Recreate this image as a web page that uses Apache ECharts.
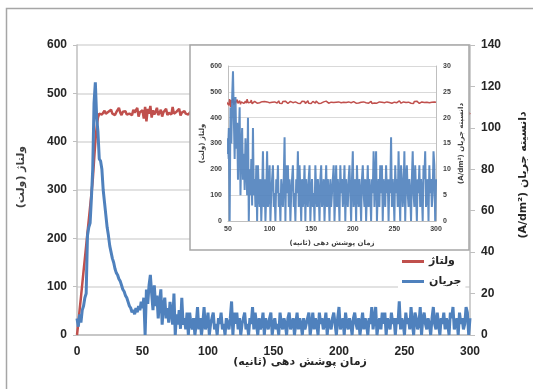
<!DOCTYPE html>
<html>
<head>
<meta charset="utf-8">
<script src="https://cdn.jsdelivr.net/npm/echarts@6/dist/echarts.min.js"></script>
<style>
  html, body { margin: 0; padding: 0; background: #fff; }
  #chart { width: 533px; height: 389px; direction: rtl; }
</style>
</head>
<body>
<div id="chart"></div>
<script>
// sample interval (seconds) of the recorded curves, t = 0 .. 300
var timeStep = 1;

// voltage (V), one value per second
var voltage = [
  0, 25, 52, 78, 105, 132, 158, 185, 212, 238,
  265, 292, 320, 360, 400, 430, 450, 458, 462, 456,
  460, 464, 458, 455, 462, 460, 466, 458, 460, 455,
  461, 458, 470, 460, 455, 462, 459, 463, 456, 460,
  458, 462, 455, 466, 460, 457, 470, 452, 461, 458,
  465, 448, 472, 442, 468, 458, 474, 450, 465, 456,
  462, 470, 455, 460, 466, 452, 461, 458, 468, 455,
  460, 464, 456, 472, 458, 455, 462, 460, 468, 454,
  460, 457, 463, 458, 461, 456, 460, 463, 458, 461,
  457, 462, 459, 455, 463, 460, 457, 461, 456, 462,
  458, 463, 456, 460, 464, 455, 461, 458, 462, 457,
  460, 465, 456, 459, 462, 455, 463, 458, 460, 464,
  457, 461, 455, 462, 459, 463, 456, 460, 458, 465,
  455, 461, 458, 463, 456, 460, 462, 455, 459, 464,
  457, 460, 463, 455, 461, 458, 465, 456, 460, 462,
  455, 459, 463, 457, 461, 456, 464, 458, 460, 455,
  462, 458, 456, 463, 459, 461, 455, 460, 464, 457,
  461, 456, 463, 458, 460, 455, 462, 459, 464, 456,
  460, 463, 457, 461, 455, 462, 458, 465, 456, 460,
  462, 455, 459, 463, 457, 461, 456, 464, 458, 460,
  455, 462, 458, 461, 456, 463, 459, 457, 462, 455,
  460, 464, 457, 461, 455, 462, 458, 460, 465, 456,
  461, 458, 463, 455, 460, 462, 457, 464, 459, 456,
  462, 458, 461, 455, 463, 460, 456, 462, 458, 465,
  457, 461, 455, 463, 459, 460, 464, 456, 462, 458,
  460, 455, 463, 458, 461, 457, 465, 459, 456, 462,
  458, 461, 456, 464, 459, 455, 462, 460, 457, 463,
  456, 461, 459, 455, 463, 458, 460, 464, 457, 461,
  455, 462, 458, 461, 456, 463, 459, 457, 462, 460,
  456, 461, 458, 464, 455, 460, 462, 457, 461, 458,
  460
];

// current density (A/dm2), one value per second
var current = [
  8, 4, 10, 6, 12, 14, 18, 20, 48, 52,
  54, 66, 80, 112, 122, 105, 98, 85, 84, 80,
  70, 64, 58, 52, 48, 43, 40, 37, 35, 32,
  30, 29, 27, 26, 24, 22, 21, 19, 18, 16,
  14, 13, 11, 12, 10, 13, 11, 14, 12, 16,
  13, 18, 0, 22, 15, 24, 29, 20, 12, 24,
  14, 19, 8, 16, 22, 5, 14, 18, 8, 13,
  6, 16, 11, 5, 20, 0, 10, 5, 12, 3,
  18, 5, 8.1, 2.7, 10.8, 0, 10.8, 5.4, 2.7, 8.1,
  0, 5.4, 13.5, 2.7, 8.1, 0, 5.4, 13.5, 2.7, 5.4,
  10.8, 0, 5.4, 8.1, 10.8, 2.7, 5.4, 0, 8.1, 5.4,
  10.8, 2.7, 5.4, 0, 8.1, 5.4, 2.7, 8.1, 16.2, 0,
  10.8, 5.4, 10.8, 2.7, 8.1, 0, 5.4, 8.1, 10.8, 2.7,
  5.4, 0, 8.1, 5.4, 13.5, 2.7, 10.8, 5.4, 0, 8.1,
  2.7, 5.4, 10.8, 0, 8.1, 5.4, 2.7, 8.1, 10.8, 0,
  5.4, 8.1, 2.7, 5.4, 0, 10.8, 5.4, 2.7, 8.1, 5.4,
  0, 8.1, 10.8, 2.7, 5.4, 8.1, 0, 5.4, 10.8, 2.7,
  8.1, 5.4, 0, 8.1, 2.7, 5.4, 8.1, 10.8, 0, 5.4,
  10.8, 2.7, 8.1, 5.4, 0, 10.8, 5.4, 8.1, 2.7, 5.4,
  10.8, 0, 8.1, 5.4, 2.7, 8.1, 10.8, 5.4, 0, 8.1,
  13.5, 2.7, 5.4, 8.1, 0, 10.8, 5.4, 2.7, 8.1, 5.4,
  0, 8.1, 10.8, 5.4, 2.7, 8.1, 0, 5.4, 10.8, 2.7,
  8.1, 5.4, 0, 8.1, 5.4, 13.5, 2.7, 8.1, 13.5, 0,
  5.4, 8.1, 2.7, 10.8, 5.4, 10.8, 0, 8.1, 5.4, 2.7,
  10.8, 5.4, 8.1, 0, 8.1, 5.4, 16.2, 2.7, 8.1, 5.4,
  0, 10.8, 5.4, 8.1, 2.7, 13.5, 5.4, 0, 10.8, 8.1,
  2.7, 5.4, 13.5, 0, 8.1, 10.8, 5.4, 2.7, 8.1, 5.4,
  0, 8.1, 13.5, 5.4, 2.7, 10.8, 5.4, 0, 8.1, 5.4,
  10.8, 2.7, 8.1, 5.4, 0, 10.8, 8.1, 13.5, 2.7, 5.4,
  8.1, 0, 10.8, 5.4, 8.1, 2.7, 5.4, 13.5, 10.8, 0,
  8.1
];

var seriesNames = ['ولتاژ', 'جریان'];
var xTitle = 'زمان پوشش دهی (ثانیه)';
var leftTitle = 'ولتاژ (ولت)';
var rightTitle = 'دانسیته جریان (A/dm²)';

var red = '#C0504D';
var blue = '#4F81BD';
var gridGray = '#d9d9d9';
var axisGray = '#bfbfbf';
var numFont = '"Liberation Sans", Arial, sans-serif';
var faFont = '"DejaVu Sans", sans-serif';

function toPairs(arr) {
  return arr.map(function (v, i) { return [i * timeStep, v]; });
}
var voltagePts = toPairs(voltage);
var currentPts = toPairs(current);

var chart = echarts.init(document.getElementById('chart'), null, { renderer: 'canvas' });

var mainLabel = { color: '#262626', fontSize: 12, fontWeight: 'bold', fontFamily: numFont };
var insetLabel = { color: '#404040', fontSize: 7, fontWeight: 'bold', fontFamily: numFont };
var insetName = { color: '#404040', fontSize: 7, fontWeight: 'bold', fontFamily: faFont };

var option = {
  animation: false,
  backgroundColor: '#fff',
  grid: [
    { left: 77, right: 63, top: 45, bottom: 54 },
    { left: 228, right: 97, top: 66, bottom: 168, z: 12 }
  ],
  legend: {
    data: seriesNames,
    orient: 'vertical',
    left: 398,
    top: 254,
    itemWidth: 22,
    itemHeight: 3,
    itemGap: 9,
    icon: 'rect',
    backgroundColor: '#fff',
    padding: [2, 4, 2, 4],
    z: 20,
    textStyle: { color: '#262626', fontSize: 11, fontWeight: 'bold', fontFamily: faFont, padding: [0, 0, 0, 0] }
  },
  xAxis: [
    {
      gridIndex: 0, type: 'value', min: 0, max: 300, interval: 50,
      axisLine: { lineStyle: { color: axisGray, width: 1.5 } },
      axisTick: { show: false },
      axisLabel: Object.assign({ margin: 11 }, mainLabel),
      splitLine: { show: false }
    },
    {
      gridIndex: 1, type: 'value', min: 50, max: 300, interval: 50, z: 12,
      name: xTitle, nameLocation: 'middle', nameGap: 19, nameTextStyle: insetName,
      axisLine: { lineStyle: { color: axisGray } },
      axisTick: { show: false },
      axisLabel: Object.assign({ margin: 5 }, insetLabel),
      splitLine: { show: false }
    }
  ],
  yAxis: [
    {
      gridIndex: 0, type: 'value', min: 0, max: 600, interval: 100, position: 'left',
      axisLine: { show: true, lineStyle: { color: axisGray, width: 1.5 } },
      axisTick: { show: true, length: 4, lineStyle: { color: axisGray } },
      axisLabel: Object.assign({ margin: 10 }, mainLabel),
      splitLine: { lineStyle: { color: gridGray, width: 1.5 } }
    },
    {
      gridIndex: 0, type: 'value', min: 0, max: 140, interval: 20, position: 'right',
      axisLine: { show: true, lineStyle: { color: axisGray, width: 1.5 } },
      axisTick: { show: true, length: 5, lineStyle: { color: axisGray } },
      axisLabel: Object.assign({ margin: 11 }, mainLabel),
      splitLine: { show: false }
    },
    {
      gridIndex: 1, type: 'value', min: 0, max: 600, interval: 100, position: 'left', z: 12,
      name: leftTitle, nameLocation: 'middle', nameGap: 22, nameRotate: 90, nameTextStyle: insetName,
      axisLine: { show: true, lineStyle: { color: axisGray } },
      axisTick: { show: false },
      axisLabel: Object.assign({ margin: 6 }, insetLabel),
      splitLine: { lineStyle: { color: gridGray } }
    },
    {
      gridIndex: 1, type: 'value', min: 0, max: 30, interval: 5, position: 'right', z: 12,
      name: rightTitle, nameLocation: 'middle', nameGap: 22, nameRotate: 90, nameTextStyle: insetName,
      axisLine: { show: true, lineStyle: { color: axisGray } },
      axisTick: { show: false },
      axisLabel: Object.assign({ margin: 7 }, insetLabel),
      splitLine: { show: false }
    }
  ],
  graphic: {
    elements: [
      {
        type: 'rect', z: 1, silent: true,
        shape: { x: 6.5, y: 8.5, width: 600, height: 400 },
        style: { fill: 'none', stroke: '#a6a6a6', lineWidth: 1.5 }
      },
      {
        type: 'rect', z: 10, silent: true,
        shape: { x: 190, y: 45, width: 279, height: 205 },
        style: { fill: '#fff', stroke: '#a6a6a6', lineWidth: 1.5 }
      },
      {
        type: 'text', z: 5, x: 21, y: 177, rotation: Math.PI / 2,
        style: { text: leftTitle, font: 'bold 11px ' + faFont, fill: '#404040', align: 'center', verticalAlign: 'middle' }
      },
      {
        type: 'text', z: 5, x: 523, y: 175, rotation: Math.PI / 2,
        style: { text: rightTitle, font: 'bold 11px ' + faFont, fill: '#262626', align: 'center', verticalAlign: 'middle' }
      },
      {
        type: 'text', z: 5, x: 300, y: 362,
        style: { text: xTitle, font: 'bold 11px ' + faFont, fill: '#262626', align: 'center', verticalAlign: 'middle' }
      }
    ]
  },
  series: [
    {
      name: seriesNames[0], type: 'line', xAxisIndex: 0, yAxisIndex: 0,
      data: voltagePts, showSymbol: false, z: 2,
      lineStyle: { color: red, width: 2.5 }, itemStyle: { color: red }
    },
    {
      name: seriesNames[1], type: 'line', xAxisIndex: 0, yAxisIndex: 1,
      data: currentPts, showSymbol: false, z: 3,
      lineStyle: { color: blue, width: 3 }, itemStyle: { color: blue }
    },
    {
      name: seriesNames[0], type: 'line', xAxisIndex: 1, yAxisIndex: 2,
      data: voltagePts, showSymbol: false, z: 13,
      lineStyle: { color: red, width: 1.5 }, itemStyle: { color: red }
    },
    {
      name: seriesNames[1], type: 'line', xAxisIndex: 1, yAxisIndex: 3,
      data: currentPts, showSymbol: false, z: 14,
      lineStyle: { color: blue, width: 2, opacity: 0.9 }, itemStyle: { color: blue }
    }
  ]
};

chart.setOption(option);
</script>
</body>
</html>
